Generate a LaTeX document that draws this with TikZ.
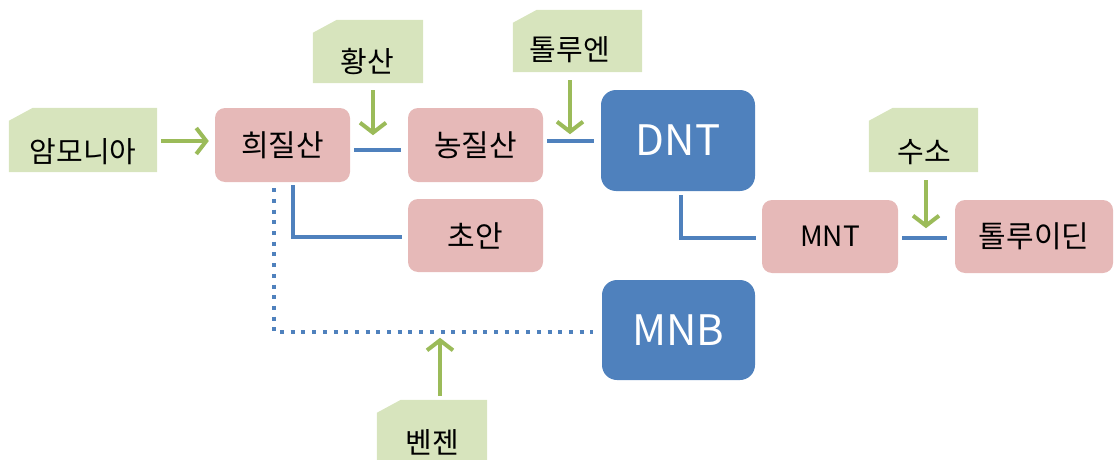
\documentclass[tikz,border=0pt]{standalone}
\usepackage{fontspec}
\setmainfont{Noto Sans CJK KR}
\usetikzlibrary{arrows.meta}
\definecolor{gfill}{HTML}{D7E4BD}
\definecolor{garr}{HTML}{9BBB59}
\definecolor{pfill}{HTML}{E6B9B8}
\definecolor{bfill}{HTML}{4F81BD}
\tikzset{
  greenbox/.style={rectangle, draw=none, fill=none, inner sep=0pt},
  pinkbox/.style={rectangle, rounded corners=10pt, fill=pfill, draw=none,
    minimum width=135pt, minimum height=73pt, font=\fontsize{30}{34}\selectfont, inner sep=0pt},
  latinpink/.style={font=\fontsize{28}{32}\selectfont},
  bluebox/.style={rectangle, rounded corners=15pt, fill=bfill, draw=none, text=white,
    minimum width=154pt, minimum height=101pt, font=\fontsize{42}{46}\selectfont, inner sep=0pt},
  txt/.style={font=\fontsize{29}{33}\selectfont, inner sep=0pt},
  garrow/.style={draw=garr, line width=4pt, -{Straight Barb[length=10pt,width=26pt,line width=4pt]}},
  bline/.style={draw=bfill, line width=4pt},
  dline/.style={draw=bfill, line width=4pt, dash pattern=on 4pt off 6.7pt}
}
\newcommand{\chamfill}[1]{\fill[gfill] ([yshift=-13pt]#1.north west) -- ([xshift=24pt]#1.north west) -- (#1.north east) -- (#1.south east) -- (#1.south west) -- cycle;}
\begin{document}
\begin{tikzpicture}[x=1pt,y=-1pt]
\useasboundingbox (0,0) rectangle (1114,460);
% green boxes
\node[greenbox, minimum width=148pt, minimum height=64pt] (amm) at (83,140) {};
\node[greenbox, minimum width=110pt, minimum height=63pt] (sulf) at (368,51.5) {};
\node[greenbox, minimum width=129pt, minimum height=62pt] (tol) at (577.5,41) {};
\node[greenbox, minimum width=109pt, minimum height=64pt] (hyd) at (923.5,140) {};
\node[greenbox, minimum width=110pt, minimum height=63pt] (benz) at (432,431.5) {};
\chamfill{amm}
\chamfill{sulf}
\chamfill{tol}
\chamfill{hyd}
\chamfill{benz}
\node[txt] (ammt) at (83,152) {암모니아};
\node[txt] (sulft) at (367,62) {황산};
\node[txt] (tolt) at (570,50) {톨루엔};
\node[txt] (hydt) at (924,152) {수소};
\node[txt] (benzt) at (432,442) {벤젠};
% pink boxes
\node[pinkbox, minimum height=74pt] (hnd) at (282.5,145) {희질산};
\node[pinkbox, minimum height=74pt] (hnc) at (475.5,145) {농질산};
\node[pinkbox] (ca) at (475.5,235.5) {초안};
\node[pinkbox, latinpink, minimum width=136pt] (mnt) at (830,236.5) {MNT};
\node[pinkbox, minimum width=158pt] (tlu) at (1034,236.5) {톨루이딘};
% blue boxes
\node[bluebox] (dnt) at (678,140.5) {DNT};
\node[bluebox, minimum width=153pt, minimum height=100pt] (mnb) at (678.5,330) {MNB};
% blue connectors
\draw[bline] ([xshift=4pt,yshift=-5pt]hnd.east) -- ([xshift=-7pt,yshift=-5pt]hnc.west);
\draw[bline] ([xshift=4pt,yshift=4pt]hnc.east) -- ([xshift=-7pt,yshift=4pt]dnt.west |- hnc.east);
\draw[bline] ([xshift=3pt,yshift=-4pt]dnt.south) |- ([xshift=-6pt,yshift=-1.5pt]mnt.west);
\draw[bline] ([xshift=4pt,yshift=-1.5pt]mnt.east) -- ([xshift=-8pt,yshift=-1.5pt]tlu.west);
\draw[bline] ([xshift=10.5pt,yshift=-3pt]hnd.south) |- ([xshift=-6pt,yshift=-1.5pt]ca.west);
\draw[dline] ([xshift=-8.5pt,yshift=-6pt]hnd.south) |- ([xshift=-9pt,yshift=-2pt]mnb.west);
% green arrows
\draw[garrow] ([xshift=4pt,yshift=-1pt]amm.east) -- ([xshift=-6pt,yshift=-1pt]hnd.west |- amm.east);
\draw[garrow] ([xshift=5pt,yshift=-7pt]sulf.south) -- ++(0,45);
\draw[garrow] ([xshift=-7.5pt,yshift=-8pt]tol.south) -- ++(0,54);
\draw[garrow] ([xshift=2.5pt,yshift=-8pt]hyd.south) -- ++(0,48);
\draw[garrow] ([xshift=8pt,yshift=4pt]benz.north) -- ++(0,-58);
\end{tikzpicture}
\end{document}
